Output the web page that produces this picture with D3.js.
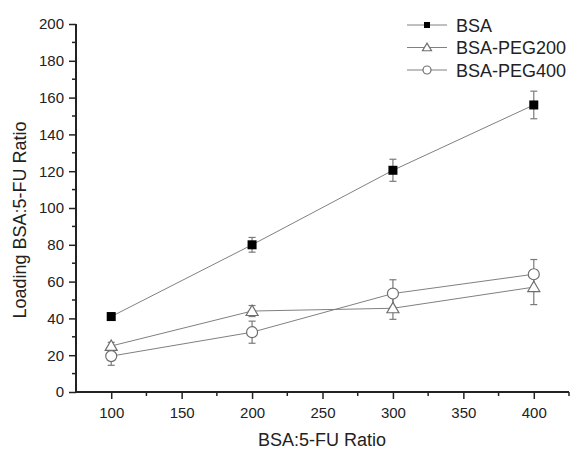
<!DOCTYPE html>
<html>
<head>
<meta charset="utf-8">
<script src="https://cdn.jsdelivr.net/npm/d3@7"></script>
<style>
  body { margin: 0; background: #fff; }
  text { font-family: "Liberation Sans", Arial, sans-serif; fill: #222; }
</style>
</head>
<body>
<div id="chart"></div>
<script>
// data
const ratios = [100, 200, 300, 400];
const seriesNames = ['BSA', 'BSA-PEG200', 'BSA-PEG400'];
const bsa = [41, 80, 120.5, 156];
const bsaErr = [2, 4, 6, 7.5];
const peg200 = [25, 44, 45.5, 57];
const peg200Err = [2, 3, 6, 9.5];
const peg400 = [19.5, 32.5, 53.5, 64];
const peg400Err = [5, 6, 7.5, 8];
const xTicks = [100, 150, 200, 250, 300, 350, 400];
const yTicks = [0, 20, 40, 60, 80, 100, 120, 140, 160, 180, 200];

document.addEventListener('DOMContentLoaded', function(){
  drawChart();
});

function drawChart(){
  const W = 571, H = 449;
  const svg = d3.select('#chart').append('svg')
                .attr('width', W)
                .attr('height', H);

  const x = d3.scaleLinear().domain([75, 425]).range([76, 569]);
  const y = d3.scaleLinear().domain([0, 200]).range([392, 24]);

  const lineCol = '#808080';
  const series = [
    {name: seriesNames[0], vals: bsa, err: bsaErr, shape: 'square'},
    {name: seriesNames[1], vals: peg200, err: peg200Err, shape: 'triangle'},
    {name: seriesNames[2], vals: peg400, err: peg400Err, shape: 'circle'}
  ];

  // axes
  const xAxis = svg.append('g')
                   .attr('transform', 'translate(0,' + y(0) + ')')
                   .call(d3.axisBottom(x).tickValues(xTicks).tickSize(7).tickPadding(8).tickFormat(d3.format('d')));
  // minor x ticks
  svg.append('g').selectAll('line')
     .data(d3.range(125, 426, 50)).enter()
     .append('line')
       .attr('x1', d => x(d)).attr('x2', d => x(d))
       .attr('y1', y(0)).attr('y2', y(0) + 4)
       .attr('stroke', '#222').attr('stroke-width', 1.5);

  const yAxis = svg.append('g')
                   .attr('transform', 'translate(' + x(75) + ',0)')
                   .call(d3.axisLeft(y).tickValues(yTicks).tickSize(7).tickPadding(5));
  svg.append('g').selectAll('line')
     .data(d3.range(10, 200, 20)).enter()
     .append('line')
       .attr('x1', x(75) - 4).attr('x2', x(75))
       .attr('y1', d => y(d)).attr('y2', d => y(d))
       .attr('stroke', '#222').attr('stroke-width', 1.5);

  [xAxis, yAxis].forEach(function(g){
    g.select('.domain').attr('stroke', '#222').attr('stroke-width', 2);
    g.selectAll('.tick line').attr('stroke', '#222').attr('stroke-width', 1.5);
    g.selectAll('.tick text').style('font-size', '15px').attr('fill', '#222')
     .style('font-family', '"Liberation Sans", Arial, sans-serif');
  });
  // extend x axis line to the y axis
  xAxis.select('.domain').attr('d', 'M' + x(75) + ',0H' + x(425));
  yAxis.select('.domain').attr('d', 'M0,' + y(0) + 'V' + y(200));

  // axis titles
  svg.append('text')
     .attr('x', 322).attr('y', 446)
     .attr('text-anchor', 'middle')
     .style('font-size', '18px')
     .text('BSA:5-FU Ratio');
  svg.append('text')
     .attr('transform', 'translate(26,220) rotate(-90)')
     .attr('text-anchor', 'middle')
     .style('font-size', '18px')
     .text('Loading BSA:5-FU Ratio');

  const line = d3.line().x((d, i) => x(ratios[i])).y(d => y(d));

  function drawMarker(g, shape, cx, cy, s){
    if(shape === 'square'){
      g.append('rect').attr('x', cx - s / 2).attr('y', cy - s / 2)
       .attr('width', s).attr('height', s).attr('fill', '#000');
    } else if(shape === 'triangle'){
      const h = s * 0.9;
      g.append('path')
       .attr('d', 'M' + cx + ',' + (cy - h * 0.6) + 'L' + (cx + s / 2 + 0.5) + ',' + (cy + h * 0.45)
                 + 'L' + (cx - s / 2 - 0.5) + ',' + (cy + h * 0.45) + 'Z')
       .attr('fill', '#fff').attr('stroke', '#6e6e6e').attr('stroke-width', 1.2);
    } else {
      g.append('circle').attr('cx', cx).attr('cy', cy).attr('r', s / 2)
       .attr('fill', '#fff').attr('stroke', '#6e6e6e').attr('stroke-width', 1.2);
    }
  }

  // plot series: lines, error bars, markers
  series.forEach(function(s){
    svg.append('path')
       .datum(s.vals)
       .attr('d', line)
       .attr('fill', 'none')
       .attr('stroke', lineCol)
       .attr('stroke-width', 1);

    const eb = svg.append('g').attr('stroke', '#7a7a7a').attr('stroke-width', 1.2);
    s.vals.forEach(function(v, i){
      const cx = x(ratios[i]);
      const top = y(v + s.err[i]), bot = y(v - s.err[i]);
      eb.append('line').attr('x1', cx).attr('x2', cx).attr('y1', top).attr('y2', bot);
      eb.append('line').attr('x1', cx - 3.5).attr('x2', cx + 3.5).attr('y1', top).attr('y2', top);
      eb.append('line').attr('x1', cx - 3.5).attr('x2', cx + 3.5).attr('y1', bot).attr('y2', bot);
    });
  });
  series.forEach(function(s){
    const mg = svg.append('g');
    s.vals.forEach(function(v, i){
      drawMarker(mg, s.shape, x(ratios[i]), y(v), s.shape === 'square' ? 9 : 11);
    });
  });

  // legend
  const leg = svg.append('g');
  series.forEach(function(s, i){
    const ly = 25 + i * 22.5;
    leg.append('line').attr('x1', 407).attr('x2', 447).attr('y1', ly).attr('y2', ly)
       .attr('stroke', lineCol).attr('stroke-width', 1);
    drawMarker(leg, s.shape, 427, ly, s.shape === 'square' ? 6 : 8);
    leg.append('text').attr('x', 456).attr('y', ly + 6.5)
       .style('font-size', '18px')
       .text(s.name);
  });
}
</script>
</body>
</html>
